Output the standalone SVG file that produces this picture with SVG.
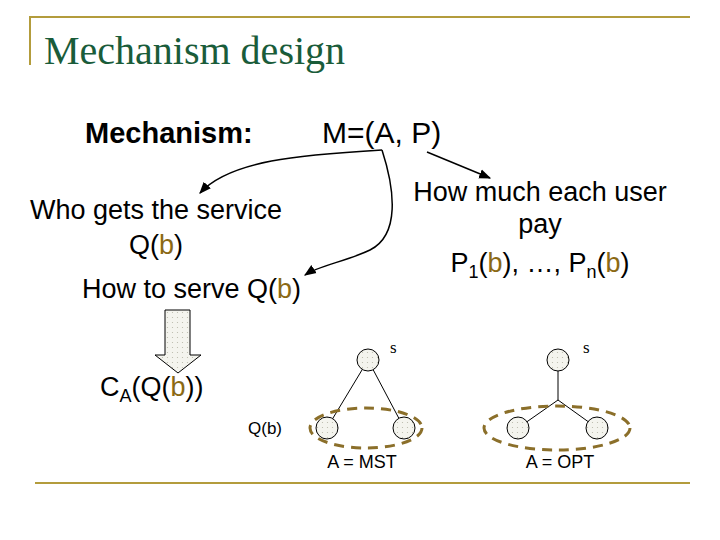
<svg xmlns="http://www.w3.org/2000/svg" width="720" height="540" viewBox="0 0 720 540">
<defs>
<pattern id="dots" width="5" height="5" patternUnits="userSpaceOnUse"><rect width="5" height="5" fill="#f4f4ee"/><circle cx="2.5" cy="2.5" r="0.6" fill="#b8b8a8"/></pattern>
<marker id="ah" viewBox="0 0 10 10" refX="9" refY="5" markerWidth="8" markerHeight="8" orient="auto"><path d="M0,1 L10,5 L0,9 Z" fill="#000"/></marker>
</defs>
<style>
.t{font-family:"Liberation Sans",Arial,sans-serif;fill:#000}
.b{fill:#8b6914}
.n{fill:url(#dots);stroke:#000;stroke-width:1}
.c{stroke:#000;stroke-width:1.5;fill:none}
.e{fill:none;stroke:#8b6f2a;stroke-width:3;stroke-dasharray:10,7}
.s{font-family:"Liberation Serif",serif;font-size:17px}
</style>
<rect width="720" height="540" fill="#fff"/>
<g id="frame" stroke="#b39c3c" stroke-width="2" fill="none">
<path d="M30,65 V17 H690"/>
<path d="M35,483 H690"/>
</g>
<text x="44" y="64" font-family="Liberation Serif,serif" font-size="40" fill="#1a5c3a">Mechanism design</text>
<g id="labels">
<text class="t" x="85" y="143" font-size="29" font-weight="bold">Mechanism:</text>
<text class="t" x="322" y="143" font-size="30">M=(A, P)</text>
<text class="t" x="540" y="201" font-size="27" text-anchor="middle">How much each user</text>
<text class="t" x="540" y="233" font-size="27" text-anchor="middle">pay</text>
<text class="t" x="540" y="272" font-size="27" text-anchor="middle">P<tspan font-size="18" dy="6">1</tspan><tspan dy="-6">(</tspan><tspan class="b">b</tspan>), …, P<tspan font-size="18" dy="6">n</tspan><tspan dy="-6">(</tspan><tspan class="b">b</tspan>)</text>
<text class="t" x="156" y="219" font-size="27" text-anchor="middle">Who gets the service</text>
<text class="t" x="156" y="254" font-size="27" text-anchor="middle">Q(<tspan class="b">b</tspan>)</text>
<text class="t" x="82" y="298" font-size="27">How to serve Q(<tspan class="b">b</tspan>)</text>
<text class="t" x="100" y="396" font-size="27">C<tspan font-size="18" dy="6">A</tspan><tspan dy="-6">(Q(</tspan><tspan class="b">b</tspan>))</text>
<text class="t" x="248" y="434" font-size="17">Q(b)</text>
<text class="t" x="362" y="468" font-size="18" text-anchor="middle">A = MST</text>
<text class="t" x="560" y="468" font-size="18" text-anchor="middle">A = OPT</text>
<text class="s" x="390" y="353">s</text>
<text class="s" x="583" y="353">s</text>
</g>
<g id="connectors">
<path class="c" d="M382,150 C300,155 230,160 200,193" marker-end="url(#ah)"/>
<path class="c" d="M382,150 C395,190 400,235 370,250 C345,262 320,265 305,275" marker-end="url(#ah)"/>
<path class="c" d="M427,152 L490,178" marker-end="url(#ah)"/>
<path d="M368,360 L327,428 M368,360 L404,428 M558,360 L558,400 L518,428 M558,400 L597,428" stroke="#000" stroke-width="1" fill="none"/>
<path id="blockarrow" d="M165,310 H190 V355 H201 L178,373 L155,355 H165 Z" fill="url(#dots)" stroke="#000" stroke-width="1"/>
</g>
<g id="trees">
<ellipse class="e" cx="366" cy="428" rx="56" ry="20"/>
<ellipse class="e" cx="557" cy="428" rx="73" ry="22"/>
<circle class="n" cx="368" cy="360" r="11"/>
<circle class="n" cx="327" cy="428" r="11"/>
<circle class="n" cx="404" cy="428" r="11"/>
<circle class="n" cx="558" cy="360" r="11"/>
<circle class="n" cx="518" cy="428" r="11"/>
<circle class="n" cx="597" cy="428" r="11"/>
</g>
</svg>
